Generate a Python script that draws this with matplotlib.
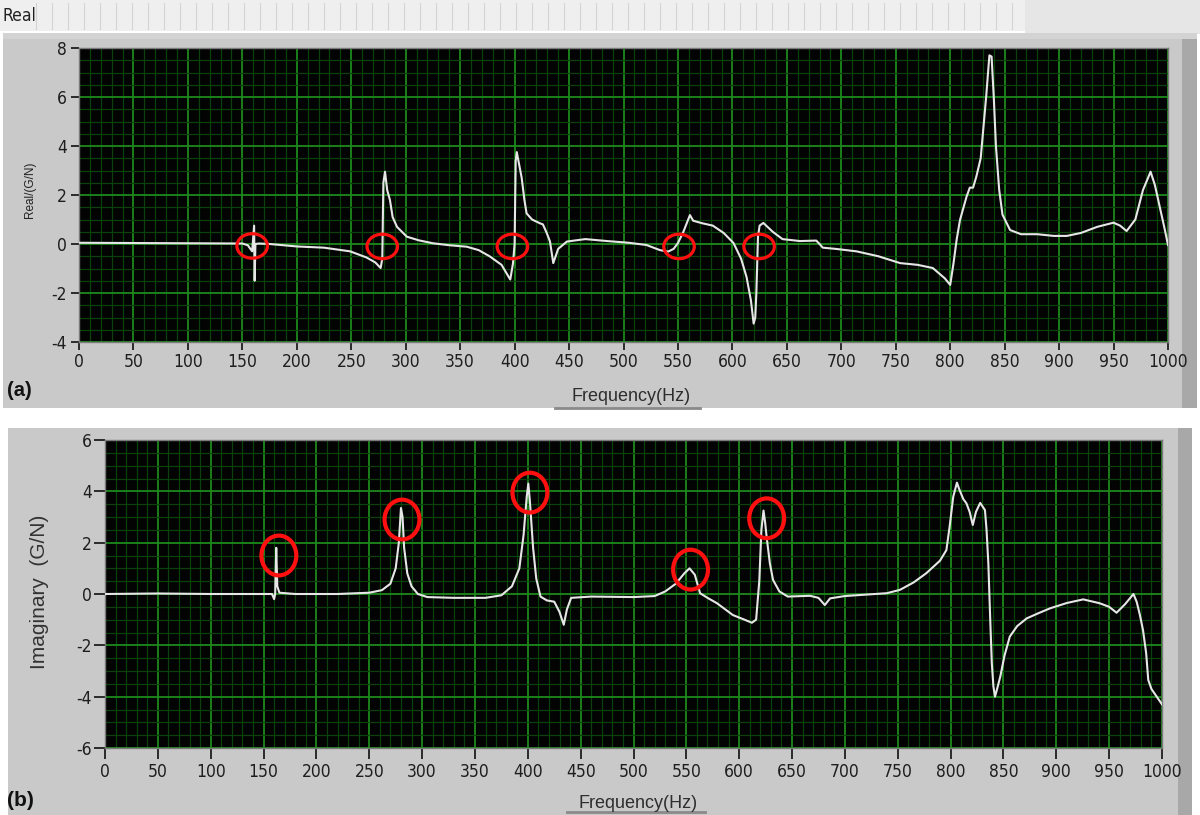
import matplotlib
matplotlib.use("Agg")
import matplotlib.pyplot as plt
from matplotlib.patches import Rectangle, Ellipse
from matplotlib.lines import Line2D
from matplotlib.ticker import MultipleLocator
from matplotlib import font_manager

plt.rcParams["axes.unicode_minus"] = False

# ---- data ----
real_freq = [0, 50, 100, 150, 155, 159, 160.8, 161.3, 162, 165, 175, 200, 225, 249, 264,
             272, 277, 278.5, 279.5, 281, 283, 285.5, 288, 292, 301, 312, 325, 340, 356,
             367, 377, 388, 396, 398.5, 400, 401, 402, 403.5, 406.5, 409, 411, 416, 423,
             426, 429.5, 432.5, 435.5, 440, 448, 465, 485, 505, 521, 533.5, 541, 546, 550,
             555, 558, 561, 564, 572, 582, 592, 601, 608, 613, 617, 619.5, 621, 622, 623.5,
             625, 628.4, 637, 646, 662, 677, 680, 683, 695, 714, 734, 754, 770, 784, 795,
             800, 803, 806, 809, 815, 818, 821, 824, 828, 831, 833, 836, 838, 840, 842, 845,
             848, 855, 865, 880, 895, 907, 920, 935, 950, 956, 962, 970, 977, 984, 988, 993,
             997, 1000]
real_val = [0.05, 0.04, 0.03, 0.02, -0.05, -0.3, 0.75, -1.5, 0.0, 0.02, 0.0, -0.1, -0.15,
            -0.3, -0.55, -0.75, -0.98, -0.6, 2.5, 2.95, 2.2, 1.8, 1.1, 0.7, 0.3, 0.15, 0.03,
            -0.05, -0.11, -0.25, -0.5, -0.85, -1.45, -0.8, 0.0, 3.4, 3.75, 3.4, 2.7, 1.8,
            1.25, 1.0, 0.85, 0.8, 0.45, 0.1, -0.78, -0.2, 0.1, 0.2, 0.12, 0.05, -0.04, -0.25,
            -0.31, -0.2, 0.04, 0.5, 0.84, 1.18, 0.95, 0.85, 0.75, 0.45, 0.04, -0.6, -1.35,
            -2.3, -3.25, -3.0, -2.0, 0.3, 0.75, 0.86, 0.5, 0.2, 0.12, 0.14, 0.0, -0.15, -0.2,
            -0.3, -0.5, -0.78, -0.85, -0.98, -1.4, -1.67, -0.8, 0.2, 0.98, 1.93, 2.3, 2.3,
            2.75, 3.5, 5.0, 6.0, 7.7, 7.65, 6.0, 4.0, 2.2, 1.2, 0.57, 0.4, 0.4, 0.33, 0.33,
            0.45, 0.7, 0.87, 0.75, 0.53, 1.0, 2.2, 2.95, 2.4, 1.4, 0.6, -0.04]

imag_freq = [0, 50, 100, 150, 158, 160, 161, 162, 163, 165, 180, 220, 250, 262, 270, 275,
             278, 280, 281.5, 283, 286, 290, 296, 305, 330, 360, 375, 385, 392, 396, 399,
             400.5, 402, 405, 408, 412, 418, 425, 430, 434, 437, 441, 460, 500, 520, 530,
             540, 548, 553, 558, 563, 570, 579, 594, 605, 612, 616, 619, 621, 623, 624.5,
             626, 629, 632, 638, 646, 667, 675, 681, 686, 700, 714, 739.5, 752, 765, 777,
             790, 796, 799, 802.5, 806, 808, 812, 815, 818, 821, 824, 828, 832.5, 834,
             835.7, 837.5, 839, 840.5, 842, 844, 847, 851, 856, 863, 872, 883, 894, 910,
             925.5, 941, 950, 957, 965, 973, 976, 979, 982, 985, 987, 990, 995, 1000]
imag_val = [0.0, 0.02, 0.0, 0.0, 0.0, -0.2, 0.0, 1.8, 0.3, 0.05, 0.0, 0.0, 0.05, 0.15, 0.4,
            1.0, 2.0, 3.35, 3.0, 1.8, 0.8, 0.3, 0.0, -0.12, -0.15, -0.15, -0.05, 0.3, 1.0,
            2.3, 3.8, 4.3, 3.6, 1.8, 0.6, -0.1, -0.25, -0.3, -0.7, -1.2, -0.6, -0.15, -0.1,
            -0.12, -0.08, 0.1, 0.4, 0.8, 1.0, 0.75, 0.03, -0.15, -0.36, -0.82, -1.0, -1.12,
            -1.0, 0.5, 2.5, 3.25, 2.8, 2.2, 1.2, 0.55, 0.1, -0.1, -0.07, -0.15, -0.43, -0.17,
            -0.08, -0.04, 0.03, 0.16, 0.45, 0.81, 1.3, 1.71, 2.6, 3.79, 4.34, 4.1, 3.7, 3.53,
            3.2, 2.69, 3.2, 3.55, 3.27, 2.5, 1.2, -1.0, -2.7, -3.6, -4.0, -3.7, -3.22, -2.4,
            -1.66, -1.25, -0.95, -0.75, -0.56, -0.35, -0.21, -0.36, -0.5, -0.73, -0.4, 0.0,
            -0.3, -0.8, -1.4, -2.3, -3.35, -3.7, -4.0, -4.3]

# red circles marking the modes
real_circle_freq = [159, 278.5, 398, 551, 624.5]
real_circle_val = [-0.08, -0.1, -0.1, -0.1, -0.1]
imag_circle_freq = [164.5, 281, 402, 554, 626]
imag_circle_val = [1.5, 2.9, 3.95, 0.95, 2.95]

W, H = 1200, 815
fig = plt.figure(figsize=(12, 8.15), dpi=100, facecolor="white")
SANS = ["Liberation Sans", "DejaVu Sans"]

# narrow upright face for the LabVIEW-style scale labels, if one is installed
names = {f.name for f in font_manager.fontManager.ttflist}
condensed = [f for f in font_manager.fontManager.ttflist
             if f.name == "DejaVu Sans" and "ondensed" in f.fname
             and f.style == "normal" and f.weight in (400, "normal", "book", "regular")]
if "Liberation Sans Narrow" in names:
    TICKFONT = font_manager.FontProperties(family="Liberation Sans Narrow", size=13.5)
elif condensed:
    TICKFONT = font_manager.FontProperties(fname=condensed[0].fname, size=12.5)
else:
    TICKFONT = font_manager.FontProperties(family="Liberation Sans", size=12)


def fx(x):
    return x / W


def fy(y):
    return 1 - y / H


def frect(x0, y0, x1, y1, color):
    fig.patches.append(Rectangle((fx(x0), fy(y1)), (x1 - x0) / W, (y1 - y0) / H,
                                 transform=fig.transFigure, facecolor=color,
                                 edgecolor="none", zorder=-5))


def fline(x0, y0, x1, y1, color, lw):
    fig.lines.append(Line2D([fx(x0), fx(x1)], [fy(y0), fy(y1)], transform=fig.transFigure,
                            color=color, lw=lw, zorder=-4))


# window chrome
frect(0, 0, 1025, 31, "#efefef")
for xl in range(36, 1022, 16):
    fline(xl, 3, xl, 29, "#d4d4d4", 0.8)
frect(1025, 0, 1200, 34, "#e6e6e6")
fig.text(fx(3), fy(16), "Real", fontproperties=TICKFONT, color="#222222", va="center")

frect(3, 33, 1197, 408, "#c9c9c9")
frect(3, 33, 1197, 39, "#d3d3d3")
frect(1182, 39, 1197, 408, "#a8a8a8")
frect(8, 428, 1192, 815, "#c9c9c9")
frect(1178, 428, 1192, 815, "#a8a8a8")


def panel(box, freq, val, ylim, circ_f, circ_v, cw, ch, clw, tick_len, xpad, ypad):
    x0, y0, x1, y1 = box
    ax = fig.add_axes([fx(x0), fy(y1), (x1 - x0) / W, (y1 - y0) / H])
    ax.set_facecolor("#030303")
    ax.set_xlim(0, 1000)
    ax.set_ylim(*ylim)
    ax.xaxis.set_major_locator(MultipleLocator(50))
    ax.xaxis.set_minor_locator(MultipleLocator(10))
    ax.yaxis.set_major_locator(MultipleLocator(2))
    ax.yaxis.set_minor_locator(MultipleLocator(0.5))
    ax.grid(which="minor", color="#0a420a", lw=0.9)
    ax.grid(which="major", color="#1c8a1c", lw=1.3)
    ax.set_axisbelow(True)
    ax.tick_params(which="minor", length=0)
    ax.tick_params(which="major", direction="out", length=tick_len, width=1.4,
                   color="#2a2a2a", labelcolor="#1e1e1e")
    ax.tick_params(axis="x", pad=xpad)
    ax.tick_params(axis="y", pad=ypad)
    for lab in ax.get_xticklabels() + ax.get_yticklabels():
        lab.set_fontproperties(TICKFONT)
    for s in ax.spines.values():
        s.set_color("#7a7a7a")
        s.set_linewidth(1)
    ax.plot(freq, val, color="#e6e6e6", lw=1.5, zorder=3)
    for cf, cv in zip(circ_f, circ_v):
        ax.add_patch(Ellipse((cf, cv), cw, ch, fill=False, ec="#ff1010", lw=clw, zorder=4))
    return ax


panel((79, 48, 1168, 342), real_freq, real_val, (-4, 8),
      real_circle_freq, real_circle_val, 28, 1.0, 2.3, 6, 2, 2.5)
panel((105, 440, 1162, 748), imag_freq, imag_val, (-6, 6),
      imag_circle_freq, imag_circle_val, 33, 1.55, 3.0, 8, 3, 1.5)

fig.text(fx(30), fy(190), "Real/(G/N)", rotation=90, fontsize=8.5, family=SANS,
         color="#222222", ha="center", va="center")
fig.text(fx(40), fy(592), "Imaginary  (G/N)", rotation=90, fontsize=15, family=SANS,
         color="#333333", ha="center", va="center")

fig.text(fx(631), fy(396), "Frequency(Hz)", fontsize=13, family=SANS, color="#2e2e2e",
         ha="center", va="center")
fline(555, 408, 700, 408, "#8a8a8a", 2)
fig.text(fx(638), fy(803), "Frequency(Hz)", fontsize=13, family=SANS, color="#2e2e2e",
         ha="center", va="center")
fline(567, 812, 705, 812, "#8a8a8a", 2)

fig.text(fx(7), fy(391), "(a)", fontsize=14.5, family=SANS, weight="bold",
         color="#111111", va="center")
fig.text(fx(7), fy(800), "(b)", fontsize=15, family=SANS, weight="bold",
         color="#111111", va="center")

fig.savefig("out.png", dpi=100, facecolor="white")
